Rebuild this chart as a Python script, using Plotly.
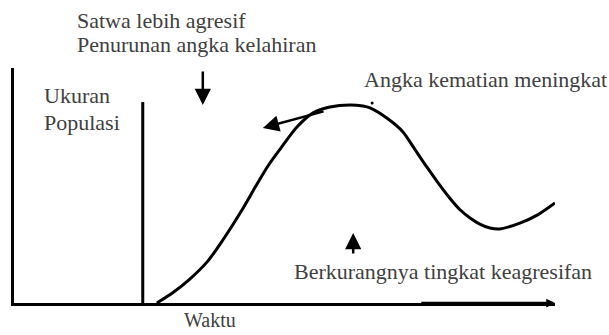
import plotly.graph_objects as go

# Kurva ukuran populasi terhadap waktu (satuan relatif, 0-100)
waktu = [26.4, 29.4, 32.5, 35.7, 38.6, 41.8, 44.9, 47.0, 49.2, 52.3, 55.3, 58.4, 62.1, 64.5,
         65.8, 68.9, 71.9, 73.8, 76.3, 78.7, 80.6, 82.4, 84.3, 86.1, 88.0, 89.8, 93.5, 96.7, 100.0]
ukuran_populasi = [0.0, 4.5, 10.2, 17.5, 26.8, 38.3, 50.5, 58.5, 65.5, 74.9, 80.9, 83.4, 84.3, 83.8,
                   83.0, 78.7, 72.8, 66.4, 57.9, 50.2, 44.5, 39.8, 36.2, 33.6, 31.9, 31.5,
                   34.0, 37.4, 42.6]

# garis batas vertikal
batas_waktu = [23.8, 23.8]
batas_tinggi = [0, 85.5]

# titik kecil di dekat puncak
titik_x = [66.2]
titik_y = [85.1]

label_font = dict(family="Liberation Serif", size=22, color="#404040")

fig = go.Figure()
fig.add_trace(go.Scatter(x=batas_waktu, y=batas_tinggi, mode='lines',
                         line=dict(color='black', width=3), cliponaxis=False))
fig.add_trace(go.Scatter(x=waktu, y=ukuran_populasi, mode='lines',
                         line=dict(color='black', width=3, shape='spline', smoothing=0.8),
                         cliponaxis=False))
fig.add_trace(go.Scatter(x=titik_x, y=titik_y, mode='markers',
                         marker=dict(color='black', size=3), cliponaxis=False))

# teks (posisi dalam koordinat paper, 0-1 = area plot)
teks = [
    ("Satwa lebih agresif", 0.113, 1.204, 'left', 22),
    ("Penurunan angka kelahiran", 0.113, 1.098, 'left', 22),
    ("Angka kematian meningkat", 0.643, 0.949, 'left', 22),
    ("Ukuran", 0.052, 0.885, 'left', 22),
    ("Populasi", 0.052, 0.770, 'left', 22),
    ("Berkurangnya tingkat keagresifan", 0.514, 0.132, 'left', 22),
    ("Waktu", 0.362, -0.072, 'center', 20),
]
for t, x, y, anchor, size in teks:
    fig.add_annotation(x=x, y=y, xref='paper', yref='paper', text=t, showarrow=False,
                       xanchor=anchor, yanchor='middle', font=dict(label_font, size=size))

# panah
panah = [
    (34.9, 84.3, 34.9, 99.1, 1.3),    # panah ke bawah
    (46.0, 74.5, 57.5, 81.7, 1.3),    # panah ke kiri dari kurva
    (62.7, 29.8, 62.7, 20.4, 1.3),    # panah ke atas
    (100.0, 0.0, 75.0, 0.0, 0.7),     # panah sumbu waktu
]
for x, y, ax, ay, size in panah:
    fig.add_annotation(x=x, y=y, ax=ax, ay=ay, xref='x', yref='y', axref='x', ayref='y',
                       text='', showarrow=True, arrowhead=2, arrowsize=size, arrowwidth=2.5,
                       arrowcolor='black')

fig.update_xaxes(range=[0, 100], showline=True, linecolor='black', linewidth=2.5,
                 showgrid=False, zeroline=False, showticklabels=False, ticks='')
fig.update_yaxes(range=[0, 100], showline=True, linecolor='black', linewidth=2.5,
                 showgrid=False, zeroline=False, showticklabels=False, ticks='')
fig.update_layout(width=609, height=335, margin=dict(l=14, r=54, t=68, b=32),
                  plot_bgcolor='white', paper_bgcolor='white', showlegend=False)

fig.write_html("out.html", config={'displayModeBar': False},
               post_script="document.body.style.margin='0';")
